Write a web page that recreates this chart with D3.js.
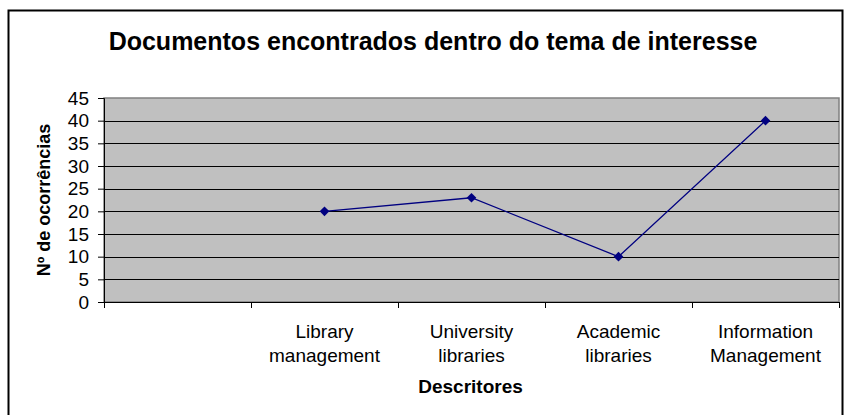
<!DOCTYPE html>
<html>
<head>
<meta charset="utf-8">
<script src="https://cdn.jsdelivr.net/npm/d3@7"></script>
<style>
  html, body { margin: 0; padding: 0; background: #fff; }
  svg { display: block; }
  text { font-family: "Liberation Sans", Arial, sans-serif; fill: #000; }
</style>
</head>
<body>
<svg id="chart" width="845" height="415"></svg>
<script>
const categories = ["", "Library management", "University libraries", "Academic libraries", "Information Management"];
const values = [null, 20, 23, 10, 40];
const yTicks = [0, 5, 10, 15, 20, 25, 30, 35, 40, 45];
const title = "Documentos encontrados dentro do tema de interesse";
const xTitle = "Descritores";
const yTitle = "Nº de ocorrências";

const svg = d3.select("#chart");
const W = 845, H = 415;
const m = { left: 104, right: 6, top: 98, bottom: 113 };
const pw = W - m.left - m.right, ph = H - m.top - m.bottom;

// outer frame
svg.append("rect").attr("x", 8.5).attr("y", 10.5).attr("width", 834).attr("height", 410)
  .attr("fill", "#fff").attr("stroke", "#000").attr("stroke-width", 2);

const x = d3.scaleBand().domain(categories).range([m.left, m.left + pw]).padding(0);
const y = d3.scaleLinear().domain([0, 45]).range([m.top + ph, m.top]);

// plot area
svg.append("rect").attr("x", m.left).attr("y", m.top).attr("width", pw).attr("height", ph)
  .attr("fill", "#C0C0C0").attr("stroke", "#808080").attr("stroke-width", 1.5);

// gridlines
svg.append("g").selectAll("line").data(yTicks.filter(t => t > 0 && t < 45)).join("line")
  .attr("x1", m.left).attr("x2", m.left + pw)
  .attr("y1", d => Math.round(y(d)) + 0.5).attr("y2", d => Math.round(y(d)) + 0.5)
  .attr("stroke", "#000").attr("stroke-width", 1);

// y axis
const yAxis = svg.append("g").attr("transform", `translate(${m.left},0)`)
  .call(d3.axisLeft(y).tickValues(yTicks).tickSize(6).tickPadding(9));
yAxis.select(".domain").attr("stroke", "#000");
yAxis.selectAll(".tick line").attr("stroke", "#000");
yAxis.selectAll("text").style("font-size", "19px").attr("fill", "#000");

// x axis line and ticks at band edges
const gx = svg.append("g");
gx.append("line").attr("x1", m.left).attr("x2", m.left + pw)
  .attr("y1", m.top + ph + 0.5).attr("y2", m.top + ph + 0.5).attr("stroke", "#000");
const edges = categories.map(c => x(c)).concat([m.left + pw]);
gx.selectAll("line.tk").data(edges).join("line").attr("class", "tk")
  .attr("x1", d => Math.round(d) + 0.5).attr("x2", d => Math.round(d) + 0.5)
  .attr("y1", m.top + ph).attr("y2", m.top + ph + 6).attr("stroke", "#000");

// x labels (wrapped into two lines)
const lab = gx.selectAll("text.cl").data(categories).join("text").attr("class", "cl")
  .attr("text-anchor", "middle").style("font-size", "19px")
  .attr("x", d => x(d) + x.bandwidth() / 2).attr("y", 338);
lab.each(function(d) {
  const words = d.split(" ");
  const t = d3.select(this);
  words.forEach((w, i) => {
    t.append("tspan").attr("x", x(d) + x.bandwidth() / 2).attr("dy", i === 0 ? 0 : 24).text(w);
  });
});

// line + markers
const pts = categories.map((c, i) => ({ c, v: values[i] })).filter(d => d.v !== null);
svg.append("path").datum(pts)
  .attr("d", d3.line().x(d => x(d.c) + x.bandwidth() / 2).y(d => y(d.v)))
  .attr("fill", "none").attr("stroke", "#000080").attr("stroke-width", 1.3);
svg.append("g").selectAll("path").data(pts).join("path")
  .attr("d", d3.symbol().type(d3.symbolDiamond2 || d3.symbolDiamond).size(60))
  .attr("transform", d => `translate(${x(d.c) + x.bandwidth() / 2},${y(d.v)})`)
  .attr("fill", "#000080");

// titles
svg.append("text").attr("x", 433).attr("y", 50).attr("text-anchor", "middle")
  .style("font-size", "25px").style("font-weight", "bold").text(title);
svg.append("text").attr("x", m.left + pw / 2 - 1).attr("y", 393).attr("text-anchor", "middle")
  .style("font-size", "19px").style("font-weight", "bold").text(xTitle);
svg.append("text").attr("transform", "translate(50,200) rotate(-90)").attr("text-anchor", "middle")
  .style("font-size", "18px").style("font-weight", "bold").text(yTitle);
</script>
</body>
</html>
